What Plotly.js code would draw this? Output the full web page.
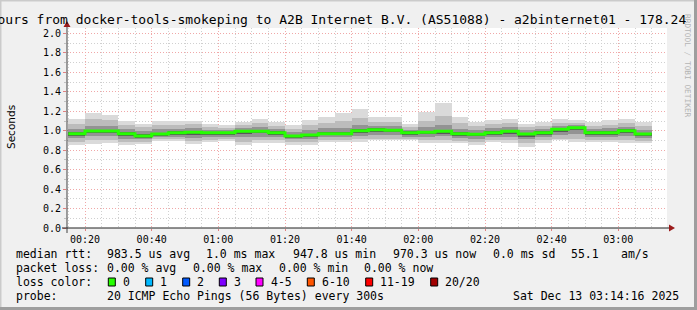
<!DOCTYPE html>
<html><head><meta charset="utf-8">
<script src="https://cdn.plot.ly/plotly-3.0.1.min.js"></script>
<style>html,body{margin:0;padding:0;background:#f0f0f0;}#chart{width:697px;height:310px;}</style>
</head><body><div id="chart"></div>
<script>
const day = '2025-12-13 ';
const barStart = ['00:15','00:20','00:25','00:30','00:35','00:40','00:45','00:50','00:55','01:00',
  '01:05','01:10','01:15','01:20','01:25','01:30','01:35','01:40','01:45','01:50',
  '01:55','02:00','02:05','02:10','02:15','02:20','02:25','02:30','02:35','02:40',
  '02:45','02:50','02:55','03:00','03:05'];
const barEnd = '03:10';
// values in ms
const medianRtt = [0.970,0.998,0.998,0.968,0.947,0.967,0.980,0.985,0.980,0.978,
  0.995,0.995,0.980,0.947,0.957,0.970,0.970,1.000,1.010,1.005,
  0.980,0.985,0.995,0.970,0.965,0.980,0.995,0.967,0.980,1.015,
  1.030,0.980,0.980,1.000,0.967];
const maxRtt = [1.125,1.180,1.160,1.100,1.070,1.100,1.100,1.100,1.070,1.056,
  1.090,1.120,1.090,1.056,1.115,1.140,1.180,1.220,1.140,1.140,
  1.070,1.190,1.285,1.140,1.090,1.110,1.120,1.070,1.090,1.120,
  1.110,1.090,1.110,1.120,1.085];
const minRtt = [0.850,0.860,0.870,0.850,0.860,0.895,0.895,0.860,0.885,0.895,
  0.850,0.870,0.875,0.850,0.850,0.885,0.885,0.885,0.900,0.900,
  0.900,0.875,0.870,0.870,0.850,0.885,0.870,0.835,0.875,0.900,
  0.885,0.885,0.885,0.870,0.870];
const upper85 = [1.070,1.120,1.110,1.060,1.040,1.060,1.060,1.070,1.040,1.030,
  1.060,1.080,1.050,1.020,1.060,1.080,1.100,1.130,1.090,1.090,
  1.040,1.100,1.150,1.080,1.050,1.070,1.080,1.040,1.050,1.080,
  1.080,1.050,1.060,1.080,1.050];
const lower15 = [0.885,0.900,0.900,0.880,0.880,0.910,0.915,0.890,0.905,0.910,
  0.885,0.900,0.900,0.880,0.880,0.905,0.905,0.910,0.920,0.920,
  0.915,0.900,0.900,0.895,0.880,0.905,0.900,0.870,0.900,0.920,
  0.910,0.905,0.905,0.900,0.895];
const upper70 = [1.020,1.050,1.045,1.015,1.000,1.015,1.020,1.030,1.010,1.005,
  1.030,1.040,1.015,0.990,1.010,1.025,1.030,1.055,1.050,1.045,
  1.010,1.040,1.060,1.020,1.010,1.025,1.040,1.005,1.020,1.050,
  1.060,1.020,1.025,1.040,1.010];
const lower30 = [0.930,0.945,0.945,0.920,0.910,0.935,0.940,0.930,0.935,0.940,
  0.935,0.940,0.935,0.910,0.915,0.935,0.935,0.950,0.955,0.955,
  0.940,0.940,0.945,0.930,0.915,0.935,0.940,0.915,0.935,0.960,
  0.965,0.935,0.940,0.945,0.925];
const upper55 = [0.985,1.012,1.010,0.982,0.962,0.980,0.993,0.998,0.992,0.990,
  1.008,1.010,0.993,0.960,0.970,0.984,0.985,1.014,1.024,1.018,
  0.993,0.999,1.010,0.984,0.978,0.993,1.009,0.980,0.993,1.028,
  1.043,0.993,0.994,1.014,0.980];
const lower45 = [0.950,0.975,0.975,0.945,0.928,0.950,0.960,0.960,0.958,0.958,
  0.970,0.972,0.958,0.928,0.935,0.952,0.952,0.978,0.985,0.982,
  0.960,0.962,0.970,0.950,0.942,0.958,0.970,0.940,0.958,0.990,
  1.005,0.958,0.960,0.975,0.945];
const yTicks = [0,0.2,0.4,0.6,0.8,1.0,1.2,1.4,1.6,1.8,2.0];
const lossLabels = ['0','1','2','3','4-5','6-10','11-19','20/20'];
const lossColors = ['#26ff00','#00b8ff','#0059ff','#7e00ff','#ff00ff','#ff5500','#ff0000','#a10000'];

const L=67,R=667,T=28,B=228,W=R-L,H=B-T;
const px=x=>(x-L)/W, py=y=>(B-y)/H;
const xs = barStart.map(t=>day+t);
const mono='DejaVu Sans Mono';

function band(hi,lo,color){
  return {type:'bar',x:xs,base:lo,y:hi.map((v,i)=>v-lo[i]),width:300000,offset:0,
    marker:{color:color,line:{width:0}},hoverinfo:'skip',showlegend:false};
}
const traces=[
  band(maxRtt,minRtt,'#dadada'),
  band(upper85,lower15,'#bcbcbc'),
  band(upper70,lower30,'#939393'),
  band(upper55,lower45,'#585858'),
  {type:'scatter',mode:'lines',x:xs.concat([day+barEnd]),y:medianRtt.concat([medianRtt[medianRtt.length-1]]),
   line:{shape:'hv',color:'#26ff00',width:3},hoverinfo:'skip',showlegend:false}
];

const shapes=[];
const ann=[];
function txt(x,y,t,opt){ann.push(Object.assign({xref:'paper',yref:'paper',x:px(x),y:py(y),text:t,showarrow:false,
  xanchor:'left',yanchor:'middle',borderpad:0,borderwidth:0,font:{family:mono,size:11.5,color:'#000'}},opt||{}));}
// title
txt(-26,19,'3 Hours from docker-tools-smokeping to A2B Internet B.V. (AS51088) - a2binternet01 - 178.24',{font:{family:mono,size:13,color:'#000'}});
// y title
ann.push({xref:'paper',yref:'paper',x:px(11),y:py(127),text:'Seconds',showarrow:false,textangle:-90,
  xanchor:'center',yanchor:'middle',font:{family:'DejaVu Sans',size:10.5,color:'#000'}});
// rrdtool credit
ann.push({xref:'paper',yref:'paper',x:px(687),y:py(66),text:'RRDTOOL / TOBI OETIKER',showarrow:false,textangle:90,
  xanchor:'center',yanchor:'middle',font:{family:mono,size:7.8,color:'#b4b4b4'}});
// legend lines
txt(15.5,254,'median rtt:'); txt(106.6,254,'983.5 us avg'); txt(206,254,'1.0 ms max'); txt(292.7,254,'947.8 us min');
txt(392.6,254,'970.3 us now'); txt(492.6,254,'0.0 ms sd'); txt(571,254,'55.1'); txt(621,254,'am/s');
txt(15.5,268,'packet loss:'); txt(106.6,268,'0.00 % avg'); txt(192.6,268,'0.00 % max'); txt(278.6,268,'0.00 % min'); txt(364.3,268,'0.00 % now');
txt(15.5,282,'loss color:');
const boxX=[108.3,145.7,182.7,219.3,256,307.3,365.7,430.7];
lossLabels.forEach((l,i)=>{
  shapes.push({type:'rect',xref:'paper',yref:'paper',x0:px(boxX[i]),x1:px(boxX[i]+7),y0:py(286),y1:py(278),
    fillcolor:lossColors[i],line:{color:'#000',width:1}});
  txt(boxX[i]+14.5,282,l);
});
txt(15.5,296,'probe:'); txt(106.6,296,'20 ICMP Echo Pings (56 Bytes) every 300s'); txt(512.7,296,'Sat Dec 13 03:14:16 2025');

// axes lines & arrows
shapes.push({type:'line',xref:'paper',yref:'paper',x0:px(67),x1:px(67),y0:py(233),y1:py(25),line:{color:'#404040',width:1}});
shapes.push({type:'line',xref:'paper',yref:'paper',x0:px(62),x1:px(671),y0:py(228),y1:py(228),line:{color:'#202020',width:1}});
shapes.push({type:'path',xref:'paper',yref:'paper',path:`M ${px(63.5)} ${py(27)} L ${px(70.5)} ${py(27)} L ${px(67)} ${py(21)} Z`,fillcolor:'#9b1b1b',line:{width:0}});
shapes.push({type:'path',xref:'paper',yref:'paper',path:`M ${px(669)} ${py(224.5)} L ${px(669)} ${py(231.5)} L ${px(675)} ${py(228)} Z`,fillcolor:'#9b1b1b',line:{width:0}});
// image border
shapes.push({type:'rect',xref:'paper',yref:'paper',x0:px(0),x1:px(697),y0:py(1.5),y1:py(0),line:{width:0},fillcolor:'#cbcbcb'});
shapes.push({type:'rect',xref:'paper',yref:'paper',x0:px(0),x1:px(1.5),y0:py(310),y1:py(0),line:{width:0},fillcolor:'#cbcbcb'});
shapes.push({type:'rect',xref:'paper',yref:'paper',x0:px(694),x1:px(697),y0:py(310),y1:py(0),line:{width:0},fillcolor:'#9e9e9e'});
shapes.push({type:'rect',xref:'paper',yref:'paper',x0:px(0),x1:px(697),y0:py(310),y1:py(307),line:{width:0},fillcolor:'#9e9e9e'});

const layout={
  width:697,height:310,margin:{l:L,r:697-R,t:T,b:310-B,pad:0},
  paper_bgcolor:'#f0f0f0',plot_bgcolor:'#ffffff',
  barmode:'overlay',bargap:0,showlegend:false,
  xaxis:{type:'date',range:[day+'00:14:36',day+'03:14:36'],tick0:day+'00:20',dtick:1200000,tickformat:'%H:%M',
    showgrid:true,gridcolor:'#f0a8a8',griddash:'1px,2px',gridwidth:1,zeroline:false,showline:false,
    ticks:'outside',ticklen:2,tickcolor:'#e08080',tickfont:{family:mono,size:10,color:'#000'},
    minor:{dtick:300000,tick0:day+'00:00',showgrid:true,gridcolor:'#d0d0d0',griddash:'1px,2px',gridwidth:1},
    fixedrange:true},
  yaxis:{range:[0,2.056],tickvals:yTicks,tickformat:'.1f',ticksuffix:' m',
    showgrid:true,gridcolor:'#f0a8a8',griddash:'1px,2px',gridwidth:1,zeroline:false,showline:false,
    ticks:'outside',ticklen:3,tickcolor:'#e08080',tickfont:{family:mono,size:10,color:'#000'},
    minor:{dtick:0.1,tick0:0,showgrid:true,gridcolor:'#d0d0d0',griddash:'1px,2px',gridwidth:1,ticks:'outside',ticklen:2,tickcolor:'#c0c0c0'},
    fixedrange:true},
  shapes:shapes,annotations:ann
};
Plotly.newPlot('chart',traces,layout,{staticPlot:true,displayModeBar:false});
</script></body></html>
